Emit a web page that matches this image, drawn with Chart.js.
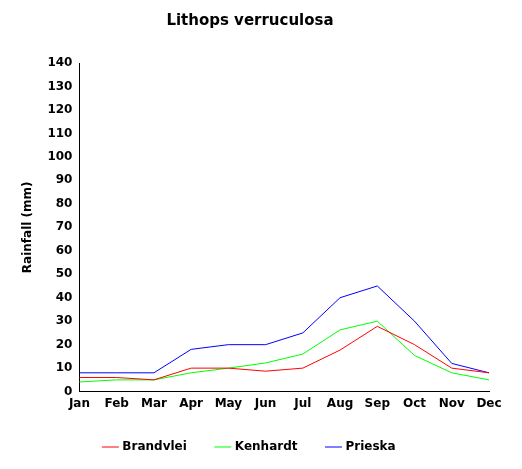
<!DOCTYPE html>
<html><head><script src="https://cdn.jsdelivr.net/npm/chart.js"></script>
<style>body{margin:0;background:#fff}#w{width:522px;height:469px}</style></head>
<body><div id="w"><canvas id="c"></canvas></div>
<script>
const months = ['Jan','Feb','Mar','Apr','May','Jun','Jul','Aug','Sep','Oct','Nov','Dec'];
const brandvlei = [6, 6, 5, 10, 10, 8.7, 10, 17.7, 27.8, 20, 10, 8];
const kenhardt = [4.1, 5, 5, 8, 10, 12.2, 16, 26.3, 30, 15.4, 8, 5];
const prieska = [8, 8, 8, 18, 20, 20, 25, 40, 45, 30, 12, 8];

const font = {family: 'DejaVu Sans', weight: 'bold', size: 12};
const ds = (label, data, color) => ({label, data, borderColor: color, backgroundColor: color,
  borderWidth: 1, pointRadius: 0, tension: 0, pointStyle: 'line'});

// nudge legend right to sit where the original has it
const shiftLegend = {id: 'shiftLegend', afterLayout(chart) {
  (chart.legend.legendHitBoxes || []).forEach(b => { b.left += 30; });
}};

new Chart(document.getElementById('c'), {
  type: 'line',
  data: {labels: months, datasets: [
    ds('Brandvlei', brandvlei, '#ff0000'),
    ds('Kenhardt', kenhardt, '#00ff00'),
    ds('Prieska', prieska, '#0000ff')
  ]},
  options: {
    responsive: true, maintainAspectRatio: false, animation: false,
    layout: {padding: {left: 11, right: 33, top: 8, bottom: 6}},
    plugins: {
      title: {display: true, text: 'Lithops verruculosa', color: '#000',
        font: {family: 'DejaVu Sans', weight: 'bold', size: 15}, padding: {top: 4, bottom: 33}},
      legend: {position: 'bottom', labels: {usePointStyle: true, color: '#000', font, boxWidth: 30, padding: 30}},
      tooltip: {enabled: false}
    },
    scales: {
      x: {offset: false, grid: {display: false, drawTicks: true, tickLength: 5, color: '#000'},
        border: {color: '#000'}, ticks: {color: '#000', font, maxRotation: 0, padding: 0}},
      y: {min: 0, max: 140, grid: {display: false, tickLength: 5, color: '#000'},
        border: {color: '#000'},
        ticks: {stepSize: 10, color: '#000', font, padding: 2},
        title: {display: true, text: 'Rainfall (mm)', color: '#000', font, padding: 10}}
    }
  },
  plugins: [shiftLegend]
});
</script></body></html>
